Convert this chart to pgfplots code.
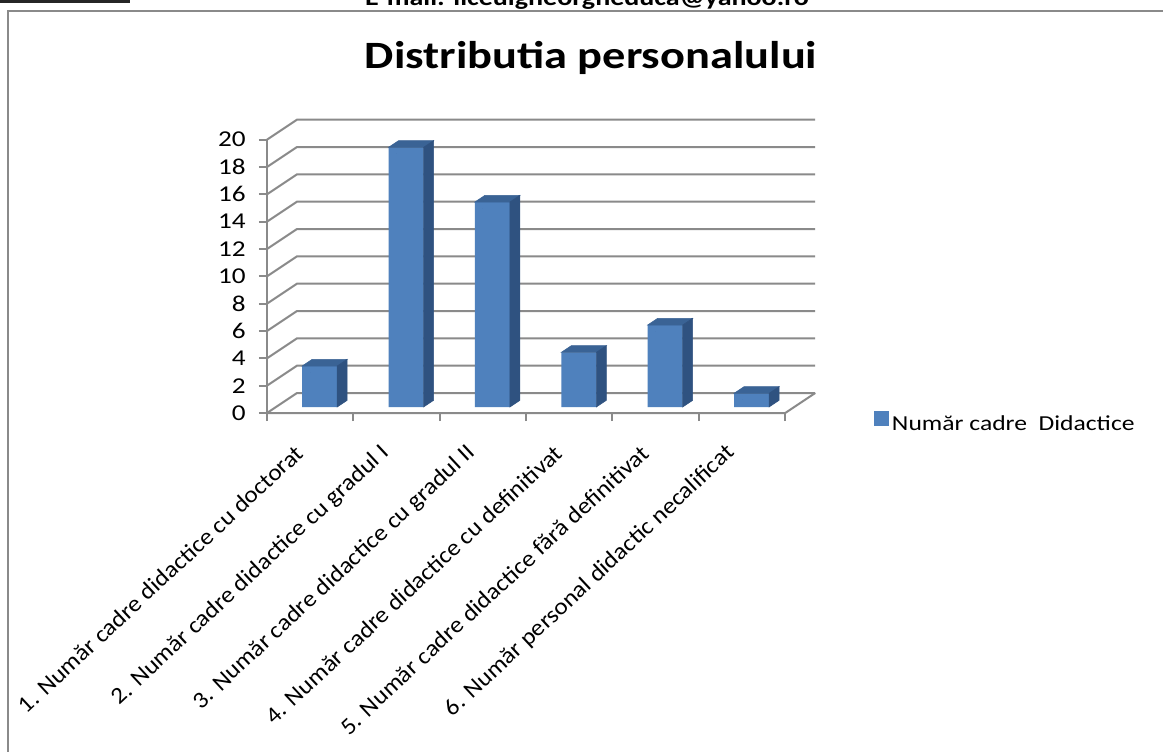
\documentclass[border=0pt]{standalone}
\usepackage{pgfplots}
\usepackage{pgfplotstable}
\pgfplotsset{compat=1.18}
\usepackage{fontspec}
\setmainfont{Carlito}[FakeStretch=1.2]
\newfontfamily\lblfont{Carlito}[FakeStretch=1.08]
\definecolor{frontc}{HTML}{4F81BD}
\definecolor{sidec}{HTML}{2F5280}
\definecolor{topc}{HTML}{3A6395}
\definecolor{gridc}{HTML}{8A8A8A}
\pgfplotstableread{
x v
0 3
1 19
2 15
3 4
4 6
5 1
}\datatable
\begin{document}
\begin{tikzpicture}[x=0.75pt,y=0.75pt]
\fill[white] (-267,-338) rectangle (896,413);
\begin{axis}[
  at={(0pt,0pt)}, anchor=south west,
  scale only axis, width=411.16pt, height=220.375pt,
  xmin=-0.5, xmax=5.8475, ymin=0, ymax=21.5,
  clip=false,
  axis line style={draw=none},
  tick pos=left, tick align=outside,
  major tick length=6pt,
  tick style={gridc, line width=1.5pt},
  ytick={0,2,...,20},
  yticklabel style={xshift=-6.5pt, font=\fontsize{17}{20}\selectfont},
  xtick={-0.5,0.5,...,5.5},
  xticklabel=\empty,
  extra x ticks={0,1,2,3,4,5},
  extra x tick labels={1. Număr cadre didactice cu doctorat,2. Număr cadre didactice cu gradul I,3. Număr cadre didactice cu gradul II,4. Număr cadre didactice cu definitivat,5. Număr cadre didactice fără definitivat,6. Număr personal didactic necalificat},
  extra x tick style={tick style={draw=none}, xticklabel style={xshift=-5.5pt, yshift=-19pt, rotate=43, anchor=east, font=\lblfont\fontsize{17.5}{20}\selectfont}},
  /pgf/number format/assume math mode=true,
  legend style={draw=none, fill=none, at={(rel axis cs:1.1,-0.034)}, anchor=west, font=\fontsize{16}{19}\selectfont},
]
\pgfplotsinvokeforeach{0,2,...,20}{
  \addplot[gridc, line width=1.5pt, forget plot] table[row sep=\\, y expr=\thisrow{y}+#1]{x y\\ -0.5 0\\ -0.1525 1.4634\\ 5.8475 1.4634\\};
}
\addplot[gridc, line width=1.5pt, forget plot] coordinates {(-0.5,0) (-0.5,20)};
\addplot[gridc, line width=1.5pt, forget plot] coordinates {(-0.5,0) (5.5,0) (5.8475,1.4634)};
\addplot[ybar, bar width=26.25pt, bar shift=7.125pt, yshift=4.5pt, fill=frontc, draw=none,
  legend image code/.code={\fill[frontc] (0pt,-5.625pt) rectangle (11.25pt,5.625pt);}] table[x=x,y=v]{\datatable};
\addlegendentry{Număr cadre~ Didactice}
\addplot[only marks, forget plot, scatter, mark=*, mark size=0pt, mark options={draw=none,fill=none},
  visualization depends on={\thisrow{v} \as \val},
  scatter/@pre marker code/.code={%
    \pgfmathsetmacro\H{\val*10.25}%
    \fill[topc] (-6pt,4.5pt) -- (20.25pt,4.5pt) -- (27.75pt,9.5pt) -- (1.5pt,9.5pt) -- cycle;
    \fill[sidec] (20.25pt,4.5pt) -- (27.75pt,9.5pt) -- (27.75pt,9.5pt-\H pt) -- (20.25pt,4.5pt-\H pt) -- cycle;
  },
  scatter/@post marker code/.code={}] table[x=x,y=v]{\datatable};
\end{axis}
\begin{scope}[shift={(-267,-338)}]
\draw[gridc, line width=1.5pt] (8,-5) -- (8,740) -- (1170,740);
\fill[black!85] (0,748) rectangle (130,752);
\node[anchor=base, inner sep=0pt, font=\bfseries\fontsize{17.5}{20}\selectfont] at (587,745) {E-mail: liceulgheorgheduca@yahoo.ro};
\node[anchor=base, inner sep=0pt, font=\bfseries\fontsize{29}{34}\selectfont] at (591,682.5) {Distributia personalului};
\end{scope}
\pgfresetboundingbox
\path[use as bounding box] (-267,-338) rectangle (896,413);
\end{tikzpicture}
\end{document}
